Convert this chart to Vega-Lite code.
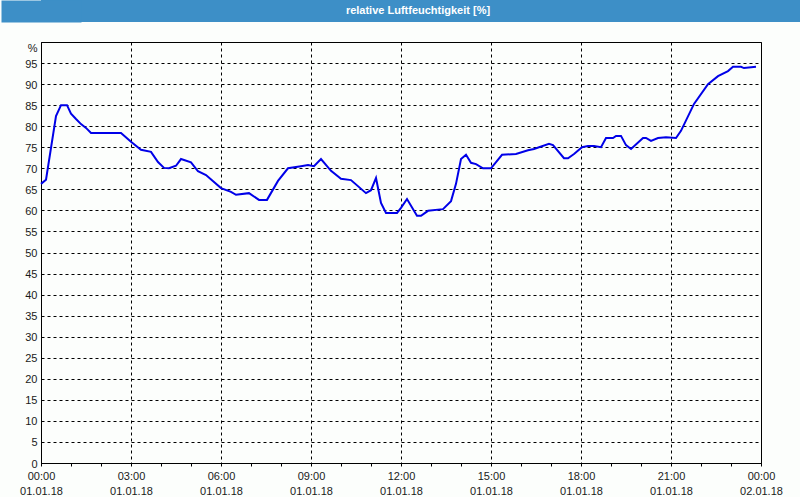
{
  "$schema": "https://vega.github.io/schema/vega-lite/v6.json",
  "background": "#FCFEFC",
  "padding": 0,
  "spacing": 19,
  "config": {"font": "Liberation Sans"},
  "vconcat": [
    {
      "width": 760,
      "height": 22,
      "view": {"fill": "#3D8FC7", "stroke": null},
      "data": {"values": [{"title": "relative Luftfeuchtigkeit [%]"}]},
      "mark": {"type": "text", "color": "white", "font": "Liberation Sans", "fontWeight": "bold", "fontSize": 11, "baseline": "middle", "align": "center", "dx": -3},
      "encoding": {
        "text": {"field": "title"},
        "y": {
          "field": "title", "type": "nominal",
          "scale": {"paddingInner": 0, "paddingOuter": 0},
          "axis": {"title": null, "labels": false, "ticks": false, "grid": false, "domain": true, "domainColor": "#3D8FC7", "domainWidth": 80, "minExtent": 40, "maxExtent": 40}
        }
      }
    },
    {
      "width": 720,
      "height": 421,
      "view": {"stroke": "black", "strokeWidth": 1, "fill": "#FCFEFC"},
      "data": {"values": [
        {"hour": 0, "rh": 66.3},
        {"hour": 0.167, "rh": 67.3},
        {"hour": 0.5, "rh": 82.4},
        {"hour": 0.667, "rh": 85.0},
        {"hour": 0.867, "rh": 85.0},
        {"hour": 1, "rh": 83.0},
        {"hour": 1.167, "rh": 81.7},
        {"hour": 1.333, "rh": 80.5},
        {"hour": 1.5, "rh": 79.6},
        {"hour": 1.667, "rh": 78.4},
        {"hour": 2.667, "rh": 78.4},
        {"hour": 3, "rh": 76.3},
        {"hour": 3.333, "rh": 74.4},
        {"hour": 3.667, "rh": 73.9},
        {"hour": 3.9, "rh": 71.5},
        {"hour": 4.1, "rh": 70.1},
        {"hour": 4.267, "rh": 70.0},
        {"hour": 4.5, "rh": 70.6},
        {"hour": 4.667, "rh": 72.2},
        {"hour": 5, "rh": 71.4},
        {"hour": 5.233, "rh": 69.3},
        {"hour": 5.5, "rh": 68.4},
        {"hour": 6, "rh": 65.3},
        {"hour": 6.333, "rh": 64.4},
        {"hour": 6.5, "rh": 63.7},
        {"hour": 6.933, "rh": 64.1},
        {"hour": 7.267, "rh": 62.5},
        {"hour": 7.533, "rh": 62.5},
        {"hour": 7.9, "rh": 67.0},
        {"hour": 8.233, "rh": 70.0},
        {"hour": 8.667, "rh": 70.5},
        {"hour": 8.9, "rh": 70.8},
        {"hour": 9.1, "rh": 70.5},
        {"hour": 9.333, "rh": 72.2},
        {"hour": 9.667, "rh": 69.4},
        {"hour": 10, "rh": 67.5},
        {"hour": 10.333, "rh": 67.2},
        {"hour": 10.833, "rh": 64.1},
        {"hour": 11, "rh": 64.8},
        {"hour": 11.167, "rh": 67.7},
        {"hour": 11.333, "rh": 61.8},
        {"hour": 11.5, "rh": 59.4},
        {"hour": 11.867, "rh": 59.4},
        {"hour": 12, "rh": 60.6},
        {"hour": 12.2, "rh": 62.7},
        {"hour": 12.533, "rh": 58.7},
        {"hour": 12.667, "rh": 58.7},
        {"hour": 12.9, "rh": 59.9},
        {"hour": 13.4, "rh": 60.3},
        {"hour": 13.667, "rh": 62.2},
        {"hour": 13.833, "rh": 66.3},
        {"hour": 14, "rh": 72.2},
        {"hour": 14.167, "rh": 73.2},
        {"hour": 14.333, "rh": 71.3},
        {"hour": 14.5, "rh": 71.0},
        {"hour": 14.733, "rh": 70.0},
        {"hour": 15, "rh": 70.0},
        {"hour": 15.367, "rh": 73.2},
        {"hour": 15.833, "rh": 73.4},
        {"hour": 16.233, "rh": 74.3},
        {"hour": 16.433, "rh": 74.6},
        {"hour": 16.933, "rh": 75.8},
        {"hour": 17.067, "rh": 75.5},
        {"hour": 17.433, "rh": 72.4},
        {"hour": 17.567, "rh": 72.4},
        {"hour": 17.767, "rh": 73.4},
        {"hour": 18.033, "rh": 75.0},
        {"hour": 18.233, "rh": 75.3},
        {"hour": 18.433, "rh": 75.3},
        {"hour": 18.667, "rh": 75.0},
        {"hour": 18.833, "rh": 77.2},
        {"hour": 19.067, "rh": 77.2},
        {"hour": 19.167, "rh": 77.7},
        {"hour": 19.333, "rh": 77.7},
        {"hour": 19.5, "rh": 75.5},
        {"hour": 19.667, "rh": 74.6},
        {"hour": 20.067, "rh": 77.2},
        {"hour": 20.167, "rh": 77.2},
        {"hour": 20.333, "rh": 76.5},
        {"hour": 20.567, "rh": 77.2},
        {"hour": 20.833, "rh": 77.4},
        {"hour": 21.167, "rh": 77.2},
        {"hour": 21.333, "rh": 78.9},
        {"hour": 21.767, "rh": 85.3},
        {"hour": 22.233, "rh": 90.0},
        {"hour": 22.567, "rh": 91.9},
        {"hour": 22.9, "rh": 93.1},
        {"hour": 23.067, "rh": 94.1},
        {"hour": 23.333, "rh": 94.1},
        {"hour": 23.433, "rh": 93.8},
        {"hour": 23.833, "rh": 94.1}
      ]},
      "mark": {"type": "line", "color": "#0000E8", "strokeWidth": 2},
      "encoding": {
        "x": {
          "field": "hour", "type": "quantitative",
          "scale": {"domain": [0, 24], "nice": false, "zero": false},
          "axis": {
            "title": null,
            "values": [0, 1, 2, 3, 4, 5, 6, 7, 8, 9, 10, 11, 12, 13, 14, 15, 16, 17, 18, 19, 20, 21, 22, 23, 24],
            "labelExpr": "datum.value == 24 ? ['00:00', '02.01.18'] : (datum.value % 3 == 0 ? [format(datum.value, '02d') + ':00', '01.01.18'] : '')",
            "labelFontSize": 11,
            "labelColor": "#1A1A1A",
            "labelLineHeight": 15,
            "labelPadding": 4,
            "labelFlush": false,
            "labelOverlap": false,
            "labelBound": false,
            "tickSize": 3,
            "tickColor": "black",
            "domainColor": "black",
            "gridColor": "black",
            "gridDash": [3, 3],
            "gridOpacity": {"condition": {"test": "datum.value % 3 == 0", "value": 1}, "value": 0}
          }
        },
        "y": {
          "field": "rh", "type": "quantitative",
          "scale": {"domain": [0, 100], "nice": false},
          "axis": {
            "title": "%",
            "titleAngle": 0,
            "titleAnchor": "end",
            "titleAlign": "right",
            "titleBaseline": "top",
            "titleFontWeight": "normal",
            "titleFontSize": 11,
            "titleColor": "#1A1A1A",
            "titleX": -4,
            "titleY": 0,
            "values": [0, 5, 10, 15, 20, 25, 30, 35, 40, 45, 50, 55, 60, 65, 70, 75, 80, 85, 90, 95],
            "labelFontSize": 11,
            "labelColor": "#1A1A1A",
            "labelPadding": 4,
            "labelOffset": 1,
            "labelFlush": false,
            "labelOverlap": false,
            "ticks": false,
            "domainColor": "black",
            "gridColor": "black",
            "gridDash": [3, 3],
            "minExtent": 40,
            "maxExtent": 40
          }
        }
      }
    }
  ]
}
